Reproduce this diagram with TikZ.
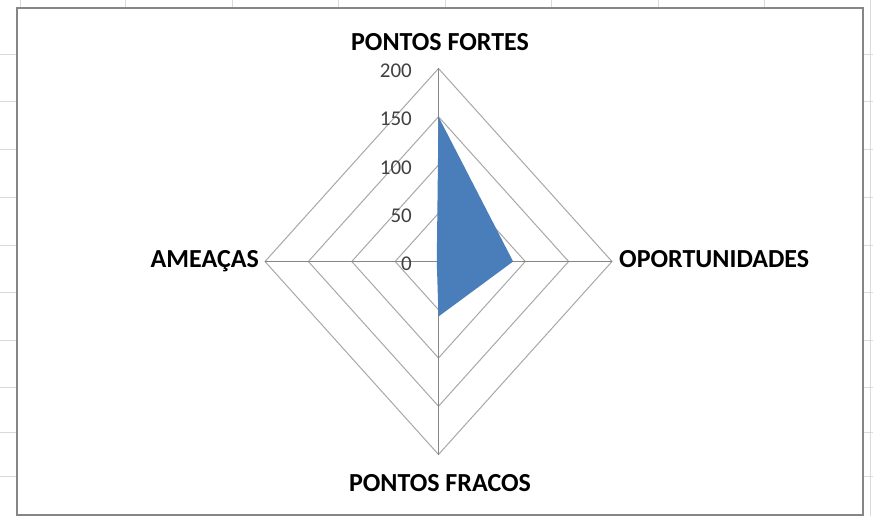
\documentclass[tikz,border=0pt]{standalone}
\usepackage{fontspec}
\setmainfont{Carlito}
\usetikzlibrary{positioning,calc}
\definecolor{sheetgray}{HTML}{DADADA}
\definecolor{ringgray}{HTML}{A8A8A8}
\definecolor{axisgray}{HTML}{868686}
\definecolor{seriesblue}{HTML}{4A7EBB}
\definecolor{ticktext}{HTML}{404040}

\begin{document}
\begin{tikzpicture}[x=1pt,y=-1pt,
        axislabel/.style={font=\fontsize{26}{26}\selectfont\bfseries,text=black,inner sep=0pt},
        ticklabel/.style={font=\fontsize{21}{21}\selectfont,text=ticktext,inner sep=0pt,anchor=base east},
        ring/.style={draw=ringgray,line width=1pt},
        spoke/.style={draw=axisgray,line width=1.1pt}]
        \useasboundingbox (0,0) rectangle (873,516);
        % draw spreadsheet grid behind the chart
        \foreach \y in {55,102,150,197,245,292,340,387,432,476}
        \draw[sheetgray,line width=1pt] (0,\y) -- (873,\y);
        \foreach \x in {20,125,232,338,445,551,658,764,870}
        \draw[sheetgray,line width=1pt] (\x,0) -- (\x,516);
        % draw chart area
        \fill[white] (17,8) rectangle (863,515);
        \draw[axisgray,line width=1.2pt] (17,8) rectangle (863,515);
        \begin{scope}[shift={(438.5,261.5)},x=0.8675pt,y=0.965pt]
        \coordinate (c) at (0,0);
        \coordinate (top) at (0,200);
        \coordinate (right) at (200,0);
        \coordinate (bottom) at (0,-200);
        \coordinate (left) at (-200,0);
        % draw rings
        \foreach \r in {50,100,150,200}
        \draw[ring] (0,\r) -- (\r,0) -- (0,-\r) -- (-\r,0) -- cycle;
        % draw spokes
        \foreach \p in {top,right,bottom,left}
        \draw[spoke] (c) -- (\p);
        % draw series
        \fill[seriesblue] (0,150) -- (86,0) -- (0,-57) -- (-2,0) -- cycle;
        % draw nodes
        \foreach \v in {0,50,100,150,200}
        \node[ticklabel] (tick\v) at ($(0,\v)+(-26.5pt,-9pt)$) {\v};
        \node[axislabel,anchor=base] (fortes) at ($(top)+(1.5pt,18pt)$) {PONTOS FORTES};
        \node[axislabel,anchor=base] (fracos) at ($(bottom)+(1.5pt,-37pt)$) {PONTOS FRACOS};
        \node[axislabel,anchor=base west] (oportunidades) at ($(right)+(7pt,-5.5pt)$) {OPORTUNIDADES};
        \node[axislabel,anchor=base east] (ameacas) at ($(left)+(-6pt,-5.5pt)$) {AMEAÇAS};
        \end{scope}
        \end{tikzpicture}
\end{document}
